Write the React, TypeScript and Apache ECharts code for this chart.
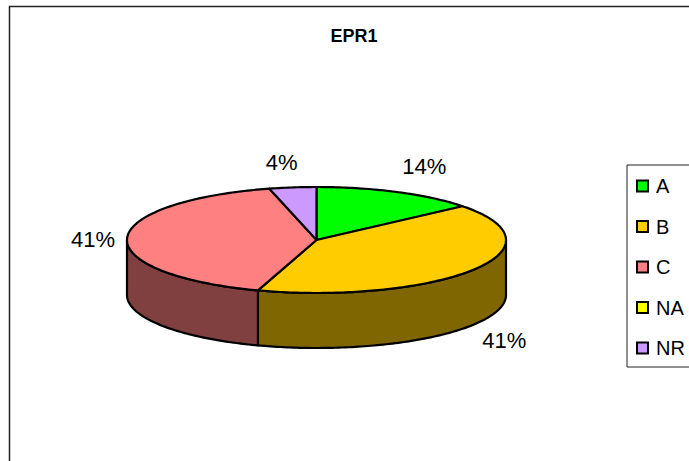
import React, { useEffect, useRef } from "react";
import * as echarts from "echarts";

const titleText = "EPR1";
const categories = ["A", "B", "C", "NA", "NR"];
const values = [14, 41, 41, 0, 4];
const topColors = ["#00FF00", "#FFCC00", "#FF8080", "#FFFF00", "#CC99FF"];
const sideColors = ["#008000", "#806600", "#804040", "#808000", "#664C80"];
const labelOffsets = [[27, -26], [31, 71], [-34, 1], [0, 0], [-11, -25]];

const CX = 316.5, CY = 240, RX = 189.5, RY = 53, DEPTH = 55;
const total = values.reduce((a, b) => a + b, 0);
const pt = (deg: number, dy = 0) => {
  const t = (deg * Math.PI) / 180;
  return [CX + RX * Math.sin(t), CY - RY * Math.cos(t) + dy];
};
const arc = (a: number, b: number, dy = 0) => {
  const n = Math.max(2, Math.ceil(Math.abs(b - a)));
  const out: number[][] = [];
  for (let i = 0; i <= n; i++) out.push(pt(a + ((b - a) * i) / n, dy));
  return out;
};

const makeRender = (index: number) => (_params: any, api: any) => {
  const value = api.value(0);
  if (!value) return null;
  const before = values.slice(0, index).reduce((a, b) => a + b, 0);
  const a0 = (before / total) * 360;
  const a1 = ((before + value) / total) * 360;
  const stroke = { stroke: "#000", lineWidth: 2.2, lineJoin: "round" };
  const children: any[] = [];
  const s0 = Math.max(a0, 90), s1 = Math.min(a1, 270);
  if (s1 > s0) {
    children.push({
      type: "polygon",
      z2: 1,
      shape: { points: [...arc(s0, s1), ...arc(s1, s0, DEPTH)] },
      style: { fill: sideColors[index], ...stroke },
    });
  }
  children.push({
    type: "polygon",
    z2: 2,
    shape: { points: [[CX, CY], ...arc(a0, a1)] },
    style: { fill: api.visual("color"), ...stroke },
  });
  const mid = pt((a0 + a1) / 2);
  children.push({
    type: "text",
    z2: 3,
    x: mid[0] + labelOffsets[index][0],
    y: mid[1] + labelOffsets[index][1],
    style: {
      text: `${Math.round((value / total) * 100)}%`,
      fill: "#000",
      font: '22px "Liberation Sans"',
      align: "center",
      verticalAlign: "middle",
    },
  });
  return { type: "group", children };
};

export default function App() {
  const ref = useRef<HTMLDivElement>(null);
  useEffect(() => {
    const chart = echarts.init(ref.current!, null, { renderer: "svg" });
    chart.setOption({
      animation: false,
      backgroundColor: "#fff",
      title: {
        text: titleText,
        left: 349,
        top: 22,
        textAlign: "center",
        textStyle: { fontFamily: "Liberation Sans", fontSize: 18, fontWeight: "bold", color: "#000" },
      },
      legend: {
        orient: "vertical",
        left: 627,
        top: 165,
        data: categories,
        selectedMode: false,
        backgroundColor: "#fff",
        borderColor: "#222",
        borderWidth: 1,
        borderRadius: 0,
        padding: [11, 40, 9, 9],
        itemWidth: 11,
        itemHeight: 11,
        itemGap: 20.5,
        icon: "rect",
        itemStyle: { borderColor: "#000", borderWidth: 2 },
        textStyle: { fontFamily: "Liberation Sans", fontSize: 20, color: "#000", padding: [0, 0, 0, 3] },
      },
      graphic: [
        {
          type: "rect",
          z: -1,
          shape: { x: 9.5, y: 6.5, width: 800, height: 600 },
          style: { fill: "#fff", stroke: "#222", lineWidth: 1.5 },
        },
      ],
      series: categories.map((name, i) => ({
        type: "custom",
        name,
        coordinateSystem: "none",
        itemStyle: { color: topColors[i] },
        data: [[values[i]]],
        renderItem: makeRender(i),
      })),
    });
    return () => chart.dispose();
  }, []);
  return <div ref={ref} style={{ position: "absolute", left: 0, top: 0, width: 689, height: 461 }} />;
}
